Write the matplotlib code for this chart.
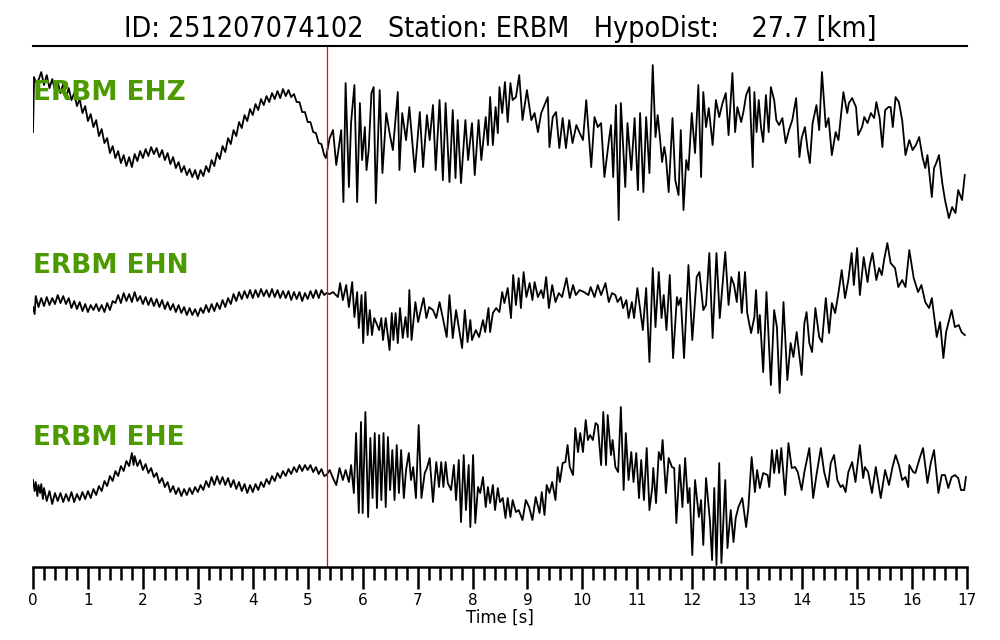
import numpy as np
import matplotlib
matplotlib.use("Agg")
import matplotlib.pyplot as plt
from matplotlib.ticker import MultipleLocator

# event / station info
event_id = "251207074102"
station = "ERBM"
hypo_dist = 27.7
pick_time = 5.35
channels = ["EHZ", "EHN", "EHE"]

# EHZ trace (time [s], amplitude [counts, arbitrary scale])
ehz_t = [0.00, 0.02, 0.05, 0.10, 0.15, 0.20, 0.25, 0.30, 0.35, 0.40, 0.45, 0.50, 0.55, 0.60, 0.65,
         0.70, 0.75, 0.80, 0.85, 0.90, 0.95, 1.00, 1.05, 1.10, 1.15, 1.20, 1.25, 1.30, 1.35, 1.40,
         1.45, 1.50, 1.55, 1.60, 1.65, 1.70, 1.75, 1.80, 1.85, 1.90, 1.95, 2.00, 2.05, 2.10, 2.15,
         2.20, 2.25, 2.30, 2.35, 2.40, 2.45, 2.50, 2.55, 2.60, 2.65, 2.70, 2.75, 2.80, 2.85, 2.90,
         2.95, 3.00, 3.05, 3.10, 3.15, 3.20, 3.25, 3.30, 3.35, 3.40, 3.45, 3.50, 3.55, 3.60, 3.65,
         3.70, 3.75, 3.80, 3.85, 3.90, 3.95, 4.00, 4.05, 4.10, 4.15, 4.20, 4.25, 4.30, 4.35, 4.40,
         4.45, 4.50, 4.55, 4.60, 4.65, 4.70, 4.75, 4.80, 4.85, 4.90, 4.95, 5.00, 5.05, 5.10, 5.15,
         5.20, 5.25, 5.30, 5.33,
         5.40, 5.46, 5.52, 5.61, 5.65, 5.69, 5.75, 5.79, 5.85, 5.90, 5.95, 5.99, 6.04, 6.07, 6.11,
         6.16, 6.20, 6.24, 6.31, 6.36, 6.43, 6.49, 6.55, 6.64, 6.67, 6.72, 6.79, 6.85, 6.95, 7.04,
         7.10, 7.17, 7.22, 7.28, 7.33, 7.40, 7.46, 7.51, 7.58, 7.64, 7.69, 7.73, 7.79, 7.87, 7.92,
         7.99, 8.04, 8.11, 8.16, 8.24, 8.28, 8.32, 8.37, 8.42, 8.46, 8.49, 8.54, 8.59, 8.64, 8.69,
         8.73, 8.79, 8.85, 8.91, 8.99, 9.07, 9.13, 9.19, 9.25, 9.37, 9.40, 9.46, 9.52, 9.58, 9.64,
         9.70, 9.76, 9.82, 9.89, 9.95, 10.01, 10.07, 10.16, 10.22, 10.28, 10.34, 10.40, 10.49, 10.52, 10.56,
         10.61, 10.66, 10.70, 10.78, 10.82, 10.89, 10.95, 11.01, 11.05, 11.11, 11.16, 11.22, 11.28, 11.33, 11.37,
         11.41, 11.45, 11.49, 11.52, 11.57, 11.64, 11.69, 11.75, 11.79, 11.84, 11.89, 11.93, 11.99, 12.05, 12.11,
         12.16, 12.20, 12.25, 12.30, 12.37, 12.43, 12.49, 12.55, 12.61, 12.66, 12.73, 12.78, 12.82, 12.89, 12.93,
         12.98, 13.04, 13.10, 13.13, 13.17, 13.21, 13.25, 13.29, 13.34, 13.39, 13.43, 13.49, 13.53, 13.58, 13.64,
         13.70, 13.76, 13.82, 13.89, 13.95, 13.99, 14.05, 14.10, 14.14, 14.19, 14.26, 14.31, 14.36, 14.43, 14.48,
         14.54, 14.61, 14.66, 14.75, 14.82, 14.85, 14.91, 14.98, 15.02, 15.09, 15.13, 15.19, 15.25, 15.31, 15.35,
         15.41, 15.46, 15.51, 15.57, 15.61, 15.65, 15.70, 15.76, 15.82, 15.88, 15.95, 16.01, 16.07, 16.13, 16.19,
         16.24, 16.28, 16.36, 16.40, 16.44, 16.49, 16.55, 16.60, 16.67, 16.73, 16.79, 16.84, 16.91, 16.96]
ehz_amp = [8, 63, 58, 60, 68, 55, 65, 52, 61, 50, 58, 47, 56, 42, 52,
           40, 47, 34, 41, 27, 34, 19, 26, 13, 20, 4, 11, -3, 2, -13,
           -6, -18, -11, -23, -15, -26, -17, -27, -14, -21, -11, -18, -9, -16, -7,
           -14, -8, -17, -10, -20, -13, -24, -17, -28, -22, -32, -26, -35, -29, -37,
           -30, -39, -30, -36, -26, -32, -20, -26, -13, -19, -6, -12, 2, -4, 10,
           4, 18, 12, 25, 19, 31, 25, 36, 30, 41, 35, 44, 38, 47, 41,
           49, 42, 51, 44, 50, 43, 46, 38, 38, 28, 28, 18, 18, 8, 7,
           -3, -4, -15, -18,
           2, 10, -25, 10, -62, 57, -47, 18, 55, -62, 37, -20, 13, -30, -10,
           47, 53, -63, 50, -33, 27, 7, -10, 48, -30, 27, 0, 33, -32, 28,
           -27, 25, 0, 35, -30, 40, -40, 37, -42, 30, -38, 20, -43, 20, -20,
           17, -35, 20, -20, 23, -5, 43, -5, 33, 7, 53, 27, 58, 18, 57,
           40, 43, 65, 20, 50, 20, 27, 8, 27, 43, -7, 23, 28, -8, 22,
           -8, 20, -3, 15, 7, 0, 40, -27, 23, 13, 17, -37, 3, 15, -37,
           35, -80, 37, -47, 17, -30, 22, -50, 27, -52, 23, -33, 75, 3, 25,
           3, -22, -7, -17, -52, 22, -40, -55, 10, -70, -20, -30, 27, -13, 55,
           -37, 48, 13, 32, -5, 40, 23, 37, 47, 5, 67, 8, 33, 18, 28,
           45, 53, -27, 48, 8, 40, 13, -2, 45, 8, 53, 40, 20, 15, 22,
           -3, 10, 20, 42, -17, 2, 13, -10, -23, 17, 35, 10, 68, 13, 22,
           -15, 8, 0, 48, 27, 37, 42, 33, 5, 13, 23, 17, 27, 22, 38,
           22, -7, 30, 33, 33, 13, 43, 38, 20, -15, 0, -10, -5, 3, -17,
           -28, -15, -57, -28, -23, -15, -43, -60, -78, -67, -73, -50, -60, -35]

# EHN trace
ehn_t = [0.00, 0.03, 0.05, 0.10, 0.15, 0.20, 0.25, 0.30, 0.35, 0.40, 0.45, 0.50, 0.55, 0.60, 0.65,
         0.70, 0.75, 0.80, 0.85, 0.90, 0.95, 1.00, 1.05, 1.10, 1.15, 1.20, 1.25, 1.30, 1.35, 1.40,
         1.45, 1.50, 1.55, 1.60, 1.65, 1.70, 1.75, 1.80, 1.85, 1.90, 1.95, 2.00, 2.05, 2.10, 2.15,
         2.20, 2.25, 2.30, 2.35, 2.40, 2.45, 2.50, 2.55, 2.60, 2.65, 2.70, 2.75, 2.80, 2.85, 2.90,
         2.95, 3.00, 3.05, 3.10, 3.15, 3.20, 3.25, 3.30, 3.35, 3.40, 3.45, 3.50, 3.55, 3.60, 3.65,
         3.70, 3.75, 3.80, 3.85, 3.90, 3.95, 4.00, 4.05, 4.10, 4.15, 4.20, 4.25, 4.30, 4.35, 4.40,
         4.45, 4.50, 4.55, 4.60, 4.65, 4.70, 4.75, 4.80, 4.85, 4.90, 4.95, 5.00, 5.05, 5.10, 5.15,
         5.20, 5.25, 5.30,
         5.34, 5.40, 5.46, 5.55, 5.59, 5.64, 5.70, 5.75, 5.81, 5.85, 5.90, 5.93, 5.98, 6.01, 6.05,
         6.09, 6.13, 6.17, 6.21, 6.25, 6.30, 6.34, 6.37, 6.42, 6.45, 6.49, 6.53, 6.56, 6.60, 6.64,
         6.68, 6.73, 6.78, 6.82, 6.85, 6.89, 6.96, 7.01, 7.07, 7.11, 7.16, 7.21, 7.28, 7.34, 7.40,
         7.46, 7.53, 7.58, 7.64, 7.70, 7.75, 7.81, 7.86, 7.91, 7.96, 7.99, 8.06, 8.12, 8.19, 8.23,
         8.29, 8.32, 8.37, 8.43, 8.49, 8.54, 8.58, 8.64, 8.70, 8.74, 8.79, 8.84, 8.88, 8.93, 8.98,
         9.04, 9.09, 9.13, 9.19, 9.25, 9.29, 9.34, 9.39, 9.45, 9.51, 9.57, 9.63, 9.71, 9.77, 9.83,
         9.88, 9.95, 10.03, 10.11, 10.15, 10.22, 10.28, 10.34, 10.42, 10.48, 10.54, 10.60, 10.64, 10.70, 10.74,
         10.80, 10.84, 10.90, 10.94, 11.00, 11.10, 11.16, 11.22, 11.28, 11.33, 11.39, 11.44, 11.48, 11.53, 11.59,
         11.65, 11.72, 11.75, 11.79, 11.85, 11.93, 12.00, 12.08, 12.13, 12.20, 12.25, 12.31, 12.37, 12.44, 12.50,
         12.60, 12.66, 12.71, 12.76, 12.81, 12.85, 12.90, 12.96, 13.00, 13.07, 13.13, 13.16, 13.20, 13.23, 13.29,
         13.35, 13.43, 13.49, 13.54, 13.59, 13.66, 13.73, 13.79, 13.84, 13.90, 13.99, 14.04, 14.08, 14.13, 14.18,
         14.24, 14.31, 14.36, 14.43, 14.49, 14.54, 14.60, 14.66, 14.72, 14.78, 14.84, 14.90, 14.94, 15.00, 15.05,
         15.12, 15.19, 15.23, 15.28, 15.35, 15.40, 15.45, 15.49, 15.55, 15.61, 15.69, 15.75, 15.82, 15.88, 15.95,
         16.03, 16.11, 16.17, 16.24, 16.31, 16.36, 16.45, 16.51, 16.57, 16.62, 16.72, 16.78, 16.85, 16.90, 16.96]
ehn_amp = [-7, -14, 4, -7, 2, -6, 3, -5, 2, -4, 5, -3, 4, -4, 2,
           -8, -1, -9, -2, -11, -4, -12, -5, -10, -4, -11, -5, -12, -3, -10,
           -1, -3, 5, -3, 7, -1, 6, -2, 8, -1, 4, -4, 3, -5, 2,
           -6, 1, -7, 0, -9, -2, -10, -4, -12, -5, -13, -7, -15, -8, -15,
           -9, -16, -8, -13, -5, -12, -4, -11, -3, -9, 0, -7, 2, -4, 6,
           -1, 8, 1, 9, 2, 10, 2, 10, 3, 11, 4, 10, 3, 11, 3,
           10, 2, 9, 2, 9, 0, 8, 1, 8, -1, 7, 1, 9, 2, 10,
           2, 10, 5,
           7, 6, 8, 3, 17, 0, 15, -7, 18, -17, 8, -28, 5, -43, 8,
           -35, -10, -35, -18, -23, -30, -18, -40, -18, -32, -50, -13, -40, -13, -43,
           -8, -38, -17, -37, 10, -40, -2, -22, -7, 2, -18, -7, -10, -18, -2,
           -18, -37, 5, -38, -10, -27, -48, -10, -42, -20, -40, -30, -37, -20, -32,
           -8, -32, -13, -8, -12, 8, -3, 12, -18, 25, -5, 22, -8, 28, 3,
           17, 0, 18, 3, 10, 2, 23, -8, 15, -2, 7, 3, 22, 2, 15,
           5, 10, 8, 5, 13, 3, 15, 5, 17, -2, 7, 5, -2, 3, -8,
           0, -18, -2, -18, 12, -30, 12, -62, 32, -27, 28, -18, 5, -30, 25,
           -58, 3, -5, 2, -58, 35, -40, 23, 28, -10, -5, 47, -38, 47, -18,
           48, -5, 23, 15, -2, 28, -13, 28, -13, -33, -17, 10, -33, -15, -72,
           8, -85, -10, -27, -93, -2, -80, -43, -57, -32, -75, -23, -12, -43, -52,
           -8, -37, -42, 2, -33, -3, -13, 7, 30, 2, 20, 47, 15, 52, 5,
           43, 18, 35, 47, 20, 32, 25, 40, 57, 37, 32, 13, 20, 13, 50,
           22, 8, 15, -2, -8, 2, -37, -22, -58, -32, -10, -27, -25, -32, -35]

# EHE trace
ehe_t = [0.00, 0.03, 0.05, 0.08, 0.10, 0.13, 0.15, 0.18, 0.20, 0.25, 0.30, 0.35, 0.40, 0.45, 0.50,
         0.55, 0.60, 0.65, 0.70, 0.75, 0.80, 0.85, 0.90, 0.95, 1.00, 1.05, 1.10, 1.15, 1.20, 1.25,
         1.30, 1.35, 1.40, 1.45, 1.50, 1.55, 1.60, 1.65, 1.70, 1.75, 1.80, 1.83, 1.85, 1.90, 1.95,
         2.00, 2.05, 2.10, 2.15, 2.20, 2.25, 2.30, 2.35, 2.40, 2.45, 2.50, 2.55, 2.60, 2.65, 2.70,
         2.75, 2.80, 2.85, 2.90, 2.95, 3.00, 3.05, 3.10, 3.15, 3.20, 3.25, 3.30, 3.35, 3.40, 3.45,
         3.50, 3.55, 3.60, 3.65, 3.70, 3.75, 3.80, 3.85, 3.90, 3.95, 4.00, 4.05, 4.10, 4.15, 4.20,
         4.25, 4.30, 4.35, 4.40, 4.45, 4.50, 4.55, 4.60, 4.65, 4.70, 4.75, 4.80, 4.85, 4.90, 4.95,
         5.00, 5.05, 5.10, 5.15, 5.20, 5.25, 5.30,
         5.34, 5.40, 5.46, 5.52, 5.58, 5.64, 5.69, 5.75, 5.79, 5.84, 5.88, 5.93, 5.97, 6.00, 6.05,
         6.10, 6.14, 6.18, 6.22, 6.26, 6.30, 6.34, 6.38, 6.42, 6.46, 6.50, 6.54, 6.58, 6.62, 6.66,
         6.70, 6.75, 6.79, 6.84, 6.88, 6.92, 6.97, 7.02, 7.07, 7.13, 7.17, 7.22, 7.28, 7.34, 7.39,
         7.43, 7.47, 7.51, 7.55, 7.61, 7.66, 7.70, 7.75, 7.79, 7.84, 7.88, 7.93, 7.96, 8.01, 8.05,
         8.10, 8.14, 8.19, 8.24, 8.28, 8.32, 8.37, 8.41, 8.46, 8.50, 8.55, 8.60, 8.64, 8.69, 8.73,
         8.79, 8.84, 8.91, 8.97, 9.03, 9.09, 9.15, 9.22, 9.26, 9.31, 9.35, 9.40, 9.45, 9.51, 9.55,
         9.59, 9.64, 9.69, 9.73, 9.77, 9.83, 9.87, 9.92, 9.96, 10.01, 10.06, 10.10, 10.14, 10.19, 10.24,
         10.28, 10.34, 10.38, 10.43, 10.46, 10.52, 10.55, 10.60, 10.65, 10.70, 10.75, 10.79, 10.84, 10.89, 10.93,
         10.98, 11.03, 11.07, 11.12, 11.17, 11.22, 11.27, 11.29, 11.34, 11.39, 11.43, 11.46, 11.52, 11.57, 11.63,
         11.67, 11.71, 11.77, 11.82, 11.87, 11.92, 11.95, 12.00, 12.05, 12.12, 12.16, 12.20, 12.25, 12.32, 12.36,
         12.40, 12.44, 12.49, 12.53, 12.60, 12.64, 12.70, 12.75, 12.79, 12.84, 12.91, 12.98, 13.02, 13.08, 13.14,
         13.18, 13.23, 13.29, 13.37, 13.40, 13.45, 13.49, 13.54, 13.58, 13.62, 13.69, 13.75, 13.81, 13.87, 13.92,
         13.99, 14.04, 14.13, 14.20, 14.26, 14.34, 14.40, 14.47, 14.52, 14.58, 14.64, 14.70, 14.74, 14.79, 14.84,
         14.91, 14.97, 15.05, 15.11, 15.14, 15.20, 15.27, 15.34, 15.43, 15.51, 15.58, 15.64, 15.70, 15.76, 15.82,
         15.88, 15.93, 15.95, 16.02, 16.06, 16.14, 16.20, 16.28, 16.34, 16.40, 16.48, 16.54, 16.60, 16.66, 16.72,
         16.78, 16.84, 16.89, 16.95, 16.98]
ehe_amp = [0, -11, -2, -16, -5, -13, -4, -19, -8, -21, -11, -24, -13, -21, -13,
           -22, -14, -21, -12, -22, -14, -20, -12, -19, -11, -18, -9, -15, -6, -11,
           -1, -6, 4, -1, 9, 4, 14, 9, 19, 14, 27, 15, 24, 14, 20,
           10, 16, 7, 12, 3, 7, -3, 2, -7, -2, -12, -6, -14, -8, -16,
           -9, -15, -8, -14, -7, -12, -5, -10, -1, -7, 3, -5, 4, -4, 3,
           -5, 2, -7, 0, -9, -2, -11, -4, -13, -5, -12, -4, -10, -2, -7,
           1, -4, 4, -1, 7, 2, 9, 4, 11, 6, 13, 8, 15, 9, 15,
           10, 15, 8, 13, 6, 11, 4,
           5, 10, 2, -5, 12, 0, 10, -2, 15, -13, 47, -33, 58, -33, 68,
           -37, 42, -18, 47, -28, 45, -20, 47, -27, 43, -10, 30, -20, 35, -13,
           30, -18, 10, 27, 0, 13, -18, 55, -18, 7, 12, 22, -22, 18, -7,
           18, -7, 18, -3, -10, 15, -20, 20, -42, 25, -30, 15, -47, 25, -43,
           -7, -13, 3, -27, -7, -23, -5, -30, -8, -22, -18, -38, -18, -37, -20,
           -32, -30, -40, -20, -27, -40, -17, -33, -12, -35, -5, -13, -2, -20, 13,
           -2, 17, 18, 35, 13, 5, 52, 28, 47, 28, 60, 40, 45, 40, 57,
           55, 15, 68, 15, 65, 25, 40, 13, 8, 73, -10, 47, 0, 28, -2,
           27, -18, 20, -20, 32, -30, -8, 12, -23, 28, 20, 40, -13, 22, 13,
           12, -43, 15, -27, 22, -23, -8, -75, 0, -37, -20, -65, 2, -40, -80,
           -8, -85, 17, -83, 0, -68, -30, -62, -38, -27, -18, -47, -28, 23, -12,
           10, -8, 7, 5, -7, 30, 7, 30, 7, 32, -15, 37, 12, 13, 8,
           -10, 8, 32, -18, 5, 32, 8, -7, 17, 25, 0, -7, -5, -12, 8,
           18, -2, 35, 2, 13, 8, -13, 13, -18, 10, -5, 12, 25, 15, 0,
           3, -7, 15, 8, 7, 22, 32, -3, 17, 30, -13, 5, 5, -8, 3,
           5, 2, -10, -10, 3]

traces = [(ehz_t, ehz_amp), (ehn_t, ehn_amp), (ehe_t, ehe_amp)]
offsets = [427, 267, 87]
label_dy = [40, 27, 35]

fig = plt.figure(figsize=(10, 6.4), dpi=100)
ax = fig.add_axes([0.033, 0.114, 0.934, 0.814])

for (t, a), off, ch, dy in zip(traces, offsets, channels, label_dy):
    ax.plot(t, np.array(a) + off, color="black", lw=1.3, solid_joinstyle="round")
    ax.text(0.0, off + dy, station + " " + ch, color="#4c9a00", fontsize=19,
            fontweight="bold", va="baseline", ha="left")

ax.axvline(pick_time, color="red", lw=0.9)

ax.set_xlim(0, 17)
ax.set_ylim(0, 521)
ax.set_yticks([])
ax.spines["left"].set_visible(False)
ax.spines["right"].set_visible(False)
ax.spines["top"].set_linewidth(1.5)
ax.spines["bottom"].set_linewidth(1.8)
ax.xaxis.set_major_locator(MultipleLocator(1))
ax.xaxis.set_minor_locator(MultipleLocator(0.2))
ax.tick_params(axis="x", which="major", direction="out", length=16, width=1.8,
               labelsize=11, pad=3)
ax.tick_params(axis="x", which="minor", direction="out", length=9, width=1.8)
ax.set_xlabel("Time [s]", fontsize=12, labelpad=0)

title = "ID: %s   Station: %s   HypoDist: %7.1f [km]" % (event_id, station, hypo_dist)
fig.text(0.5, 0.955, title, ha="center", va="center", fontsize=20.5,
         fontstretch="condensed")

fig.savefig("out.png", dpi=100)
